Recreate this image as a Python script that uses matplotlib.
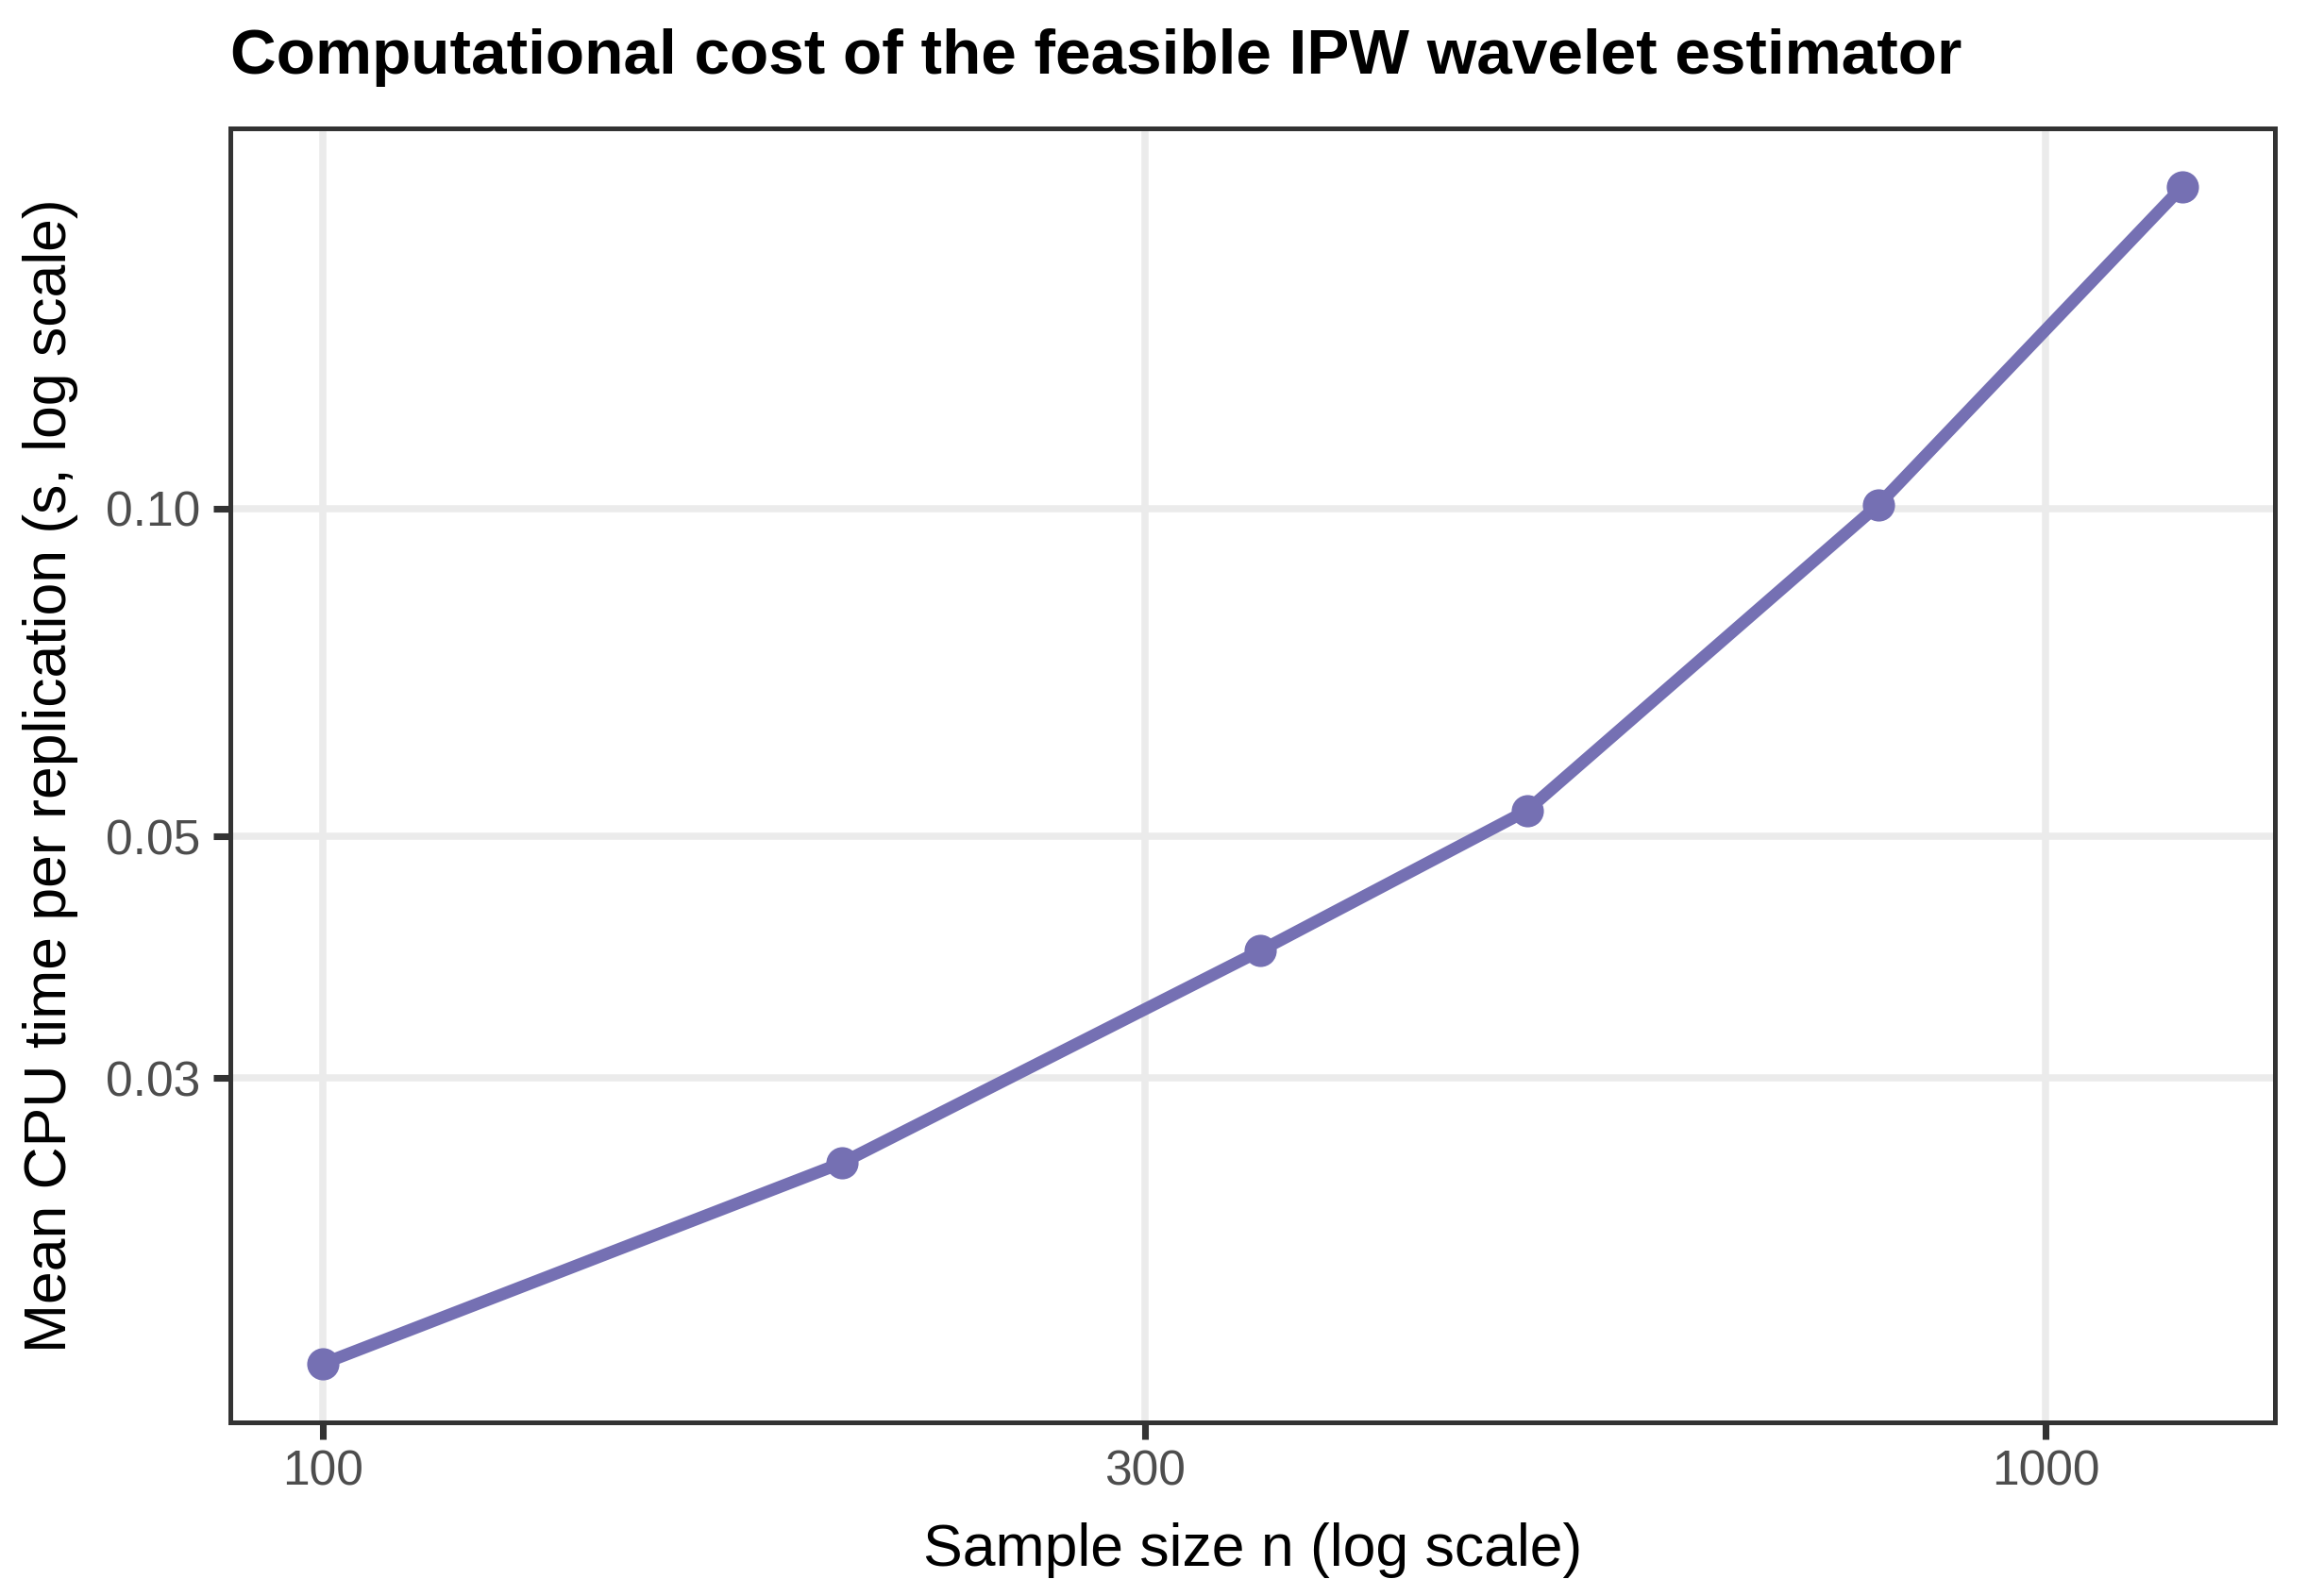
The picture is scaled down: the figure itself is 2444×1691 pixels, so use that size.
import numpy as np
import matplotlib.pyplot as plt
from matplotlib.ticker import FixedLocator, NullLocator, FixedFormatter

# Timing results (mean CPU seconds per replication)
sample_sizes = [100, 200, 350, 500, 800, 1200]
cpu_time = [0.0164, 0.02506, 0.03925, 0.0528, 0.1008, 0.1972]

x_breaks = [100, 300, 1000]
x_labels = ["100", "300", "1000"]
y_breaks = [0.03, 0.05, 0.10]
y_labels = ["0.03", "0.05", "0.10"]

LINE_COLOR = "#7570B3"
plt.rcParams['font.family'] = ['Liberation Sans', 'DejaVu Sans']

fig = plt.figure(figsize=(2444 / 300, 1691 / 300), dpi=300)
ax = fig.add_axes([244 / 2444, 1 - 1507 / 1691, (2410 - 244) / 2444, (1507 - 136) / 1691])

ax.plot(sample_sizes, cpu_time, color=LINE_COLOR, lw=3.1, marker="o",
        markersize=8.2, markeredgewidth=0, solid_capstyle="butt", zorder=3)

ax.set_xscale("log")
ax.set_yscale("log")
ax.margins(x=0.05, y=0.05)

ax.xaxis.set_major_locator(FixedLocator(x_breaks))
ax.xaxis.set_major_formatter(FixedFormatter(x_labels))
ax.xaxis.set_minor_locator(NullLocator())
ax.yaxis.set_major_locator(FixedLocator(y_breaks))
ax.yaxis.set_major_formatter(FixedFormatter(y_labels))
ax.yaxis.set_minor_locator(NullLocator())

ax.grid(True, color="#EBEBEB", lw=1.8)
ax.set_axisbelow(True)
for s in ax.spines.values():
    s.set_color("#333333")
    s.set_linewidth(1.2)
ax.tick_params(length=4.4, width=1.7, color="#333333", labelcolor="#4D4D4D",
               labelsize=12.4)
ax.tick_params(axis="y", pad=3.2)
ax.tick_params(axis="x", pad=2.4)

ax.set_xlabel("Sample size n (log scale)", fontsize=15, color="black", labelpad=7)
ax.set_ylabel("Mean CPU time per replication (s, log scale)", fontsize=15,
              color="black", labelpad=7)
ax.set_title("Computational cost of the feasible IPW wavelet estimator",
             fontsize=16.2, fontweight="bold", loc="left", pad=14)

fig.savefig("out.png", dpi=300)
